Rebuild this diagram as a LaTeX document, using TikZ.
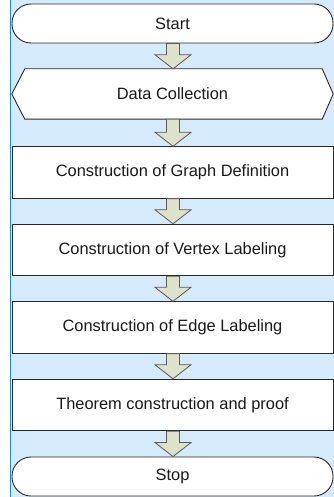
\documentclass[tikz,border=0pt]{standalone}
\usepackage{fontspec}
\setmainfont{Liberation Sans}
\usetikzlibrary{calc}
\definecolor{bgblue}{RGB}{214,234,253}
\definecolor{edgeblue}{RGB}{30,136,229}
\definecolor{arrfill}{RGB}{222,226,203}
\definecolor{arrline}{RGB}{90,90,90}
\definecolor{shline}{RGB}{40,40,40}
\tikzset{
  flowbox/.style={draw=shline, line width=0.9pt, fill=white, minimum width=321pt, inner sep=0pt, font=\fontsize{16.4}{19}\selectfont, text=black!90},
  termbox/.style={flowbox, rounded corners=19pt, minimum height=39pt},
  procbox/.style={flowbox, minimum height=51.5pt},
  hexlabel/.style={minimum width=321pt, minimum height=50pt, inner sep=0pt, font=\fontsize{16.4}{19}\selectfont, text=black!90},
  flowarrowstyle/.style={fill=arrfill, draw=arrline, line width=0.8pt, line join=miter}
}
\newcommand\flowarr[2]{%
  \path[flowarrowstyle] let \p1=(#1.south), \p2=(#2.north) in
    (\x1-6pt,\y1) -- (\x1+7pt,\y1) -- (\x1+7pt,\y2+14pt) -- (\x1+18.5pt,\y2+14pt)
    -- (\x1+0.5pt,\y2) -- (\x1-17.5pt,\y2+14pt) -- (\x1-6pt,\y2+14pt) -- cycle;
}
\begin{document}
\begin{tikzpicture}[x=1pt,y=-1pt]
\useasboundingbox (0,0) rectangle (334,497);
\fill[white] (0,0) rectangle (334,497);
\fill[bgblue] (10,0) rectangle (334,497);
\draw[edgeblue, line width=1pt] (10.5,0) -- (10.5,497);
% nodes
\node[termbox] (start) at (172.5,23.5) {Start};
\node[hexlabel] (dc) at (172.5,94) {};
\draw[draw=shline, line width=0.9pt, fill=white]
  (dc.west) -- ($(dc.north west)+(13,0)$) -- ($(dc.north east)+(-11,0)$) -- (dc.east)
  -- ($(dc.south east)+(-11,0)$) -- ($(dc.south west)+(13,0)$) -- cycle;
\node[hexlabel] at (dc.center) {Data Collection};
\node[procbox] (graph) at (172.5,172.5) {Construction of Graph Definition};
\node[procbox] (vertex) at (172.5,250) {Construction of Vertex Labeling};
\node[procbox] (edge) at (172.5,327.5) {Construction of Edge Labeling};
\node[procbox] (thm) at (172.5,405) {Theorem construction and proof};
\node[termbox] (stop) at (172.5,476.5) {Stop};
% arrows
\flowarr{start}{dc}
\flowarr{dc}{graph}
\flowarr{graph}{vertex}
\flowarr{vertex}{edge}
\flowarr{edge}{thm}
\flowarr{thm}{stop}
\end{tikzpicture}
\end{document}
